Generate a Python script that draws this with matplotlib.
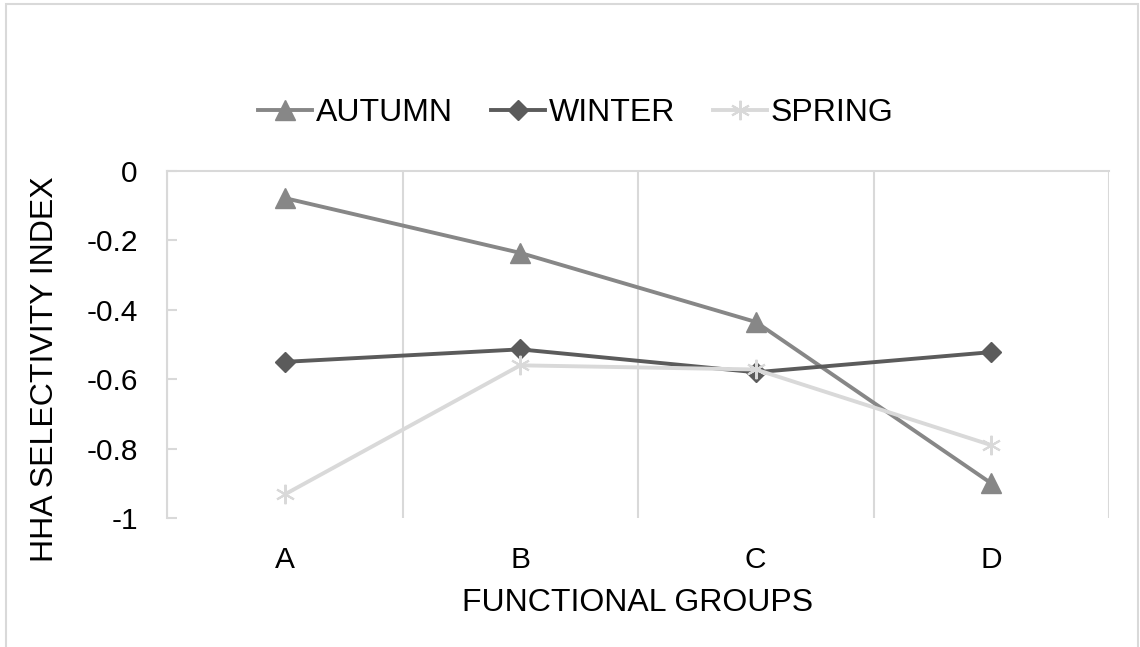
import matplotlib.pyplot as plt
from matplotlib.patches import Rectangle

# data
groups = ["A", "B", "C", "D"]
autumn = [-0.078, -0.236, -0.435, -0.90]
winter = [-0.55, -0.514, -0.58, -0.522]
spring = [-0.932, -0.56, -0.572, -0.79]
yticks = [0, -0.2, -0.4, -0.6, -0.8, -1]

plt.rcParams['font.family'] = ['Liberation Sans', 'DejaVu Sans']
fs = 21.5      # tick labels
fs_big = 23    # axis titles + legend
grid_col = "#d9d9d9"

fig = plt.figure(figsize=(11.4, 6.47), dpi=100)
ax = fig.add_axes([167 / 1140, 1 - 518 / 647, (1109 - 167) / 1140, (518 - 171) / 647])

x = list(range(1, len(groups) + 1))
ax.plot(x, autumn, color="#878787", lw=2.8, marker="^", ms=14, label="AUTUMN", zorder=3)
ax.plot(x, winter, color="#5b5b5b", lw=2.8, marker="D", ms=10.5, label="WINTER", zorder=3)
ax.plot(x, spring, color="#d9d9d9", lw=2.8, marker=(6, 2, 0), ms=14, mew=1.5,
        label="SPRING", zorder=3)

ax.set_xlim(0.5, 4.5)
ax.set_ylim(-1, 0)
ax.set_xticks(x)
ax.set_xticklabels(groups)
ax.set_yticks(yticks)
ax.set_yticklabels(["0", "-0.2", "-0.4", "-0.6", "-0.8", "-1"])

# vertical gridlines between categories
ax.set_xticks([0.5, 1.5, 2.5, 3.5, 4.5], minor=True)
ax.grid(True, which="minor", axis="x", color=grid_col, lw=1.5)
ax.tick_params(axis="x", which="both", length=0, labelsize=fs, pad=20)
ax.tick_params(axis="y", direction="in", length=7, width=1.5, color=grid_col,
               labelsize=fs, pad=21)

for s in ["bottom", "right"]:
    ax.spines[s].set_visible(False)
for s in ["top", "left"]:
    ax.spines[s].set_color(grid_col)
    ax.spines[s].set_linewidth(1.5)

ax.set_xlabel("FUNCTIONAL GROUPS", fontsize=fs_big, labelpad=10)
fig.text(45 / 1140, 1 - 369 / 647, "HHA SELECTIVITY INDEX", rotation=90,
         ha="center", va="center", fontsize=fs_big)

fig.legend(loc="center", bbox_to_anchor=(0.505, 1 - 113 / 647), ncol=3, frameon=False,
           fontsize=fs_big, handlelength=1.7, handletextpad=0.1, columnspacing=1.2)

# chart area border
fig.patches.append(Rectangle((6 / 1140, -0.05), 1132 / 1140, 1.05 - 4 / 647,
                             transform=fig.transFigure, fill=False,
                             edgecolor=grid_col, lw=1.5))

fig.savefig("out.png", dpi=100)
